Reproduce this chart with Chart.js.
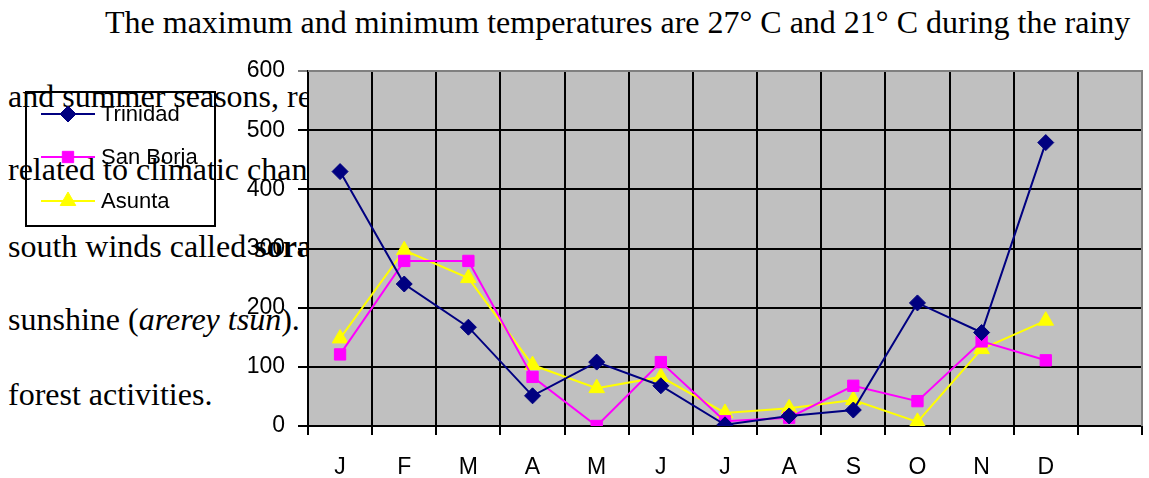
<!DOCTYPE html>
<html>
<head>
<meta charset="utf-8">
<script src="https://cdn.jsdelivr.net/npm/chart.js@4.4.1/dist/chart.umd.min.js"></script>
<style>
  html, body { margin: 0; padding: 0; background: #fff; overflow: hidden; }
  #wrap { position: relative; width: 1149px; height: 478px; overflow: hidden; }
  .doc { position: absolute; font-family: "Liberation Serif", "Times New Roman", serif; font-size: 32px; color: #000; white-space: nowrap; line-height: 1; z-index: 0; }
  canvas { position: absolute; left: 0; top: 0; z-index: 1; }
</style>
</head>
<body>
<div id="wrap">
  <div class="doc" style="left:105px; top:6px;">The maximum and minimum temperatures are 27° C and 21° C during the rainy</div>
  <div class="doc" style="left:8px; top:80px;">and summer seasons, respectively</div>
  <div class="doc" style="left:8px; top:153px;">related to climatic changes</div>
  <div class="doc" style="left:8px; top:230px;">south winds called <b>sora</b></div>
  <div class="doc" style="left:8px; top:303px;">sunshine (<i>arerey tsun</i>).</div>
  <div class="doc" style="left:8px; top:378px;">forest activities.</div>
  <canvas id="c" width="1152" height="478"></canvas>
</div>
<script>
const months = ['J','F','M','A','M','J','J','A','S','O','N','D'];
const xLabels = months.concat(['']);
const trinidad = [430, 240, 167, 51, 108, 68, 2, 17, 27, 208, 158, 479];
const sanBorja = [121, 279, 279, 83, 0, 108, 8, 14, 68, 42, 143, 111];
const asunta   = [148, 297, 250, 103, 64, 83, 22, 30, 44, 7, 130, 178];
const seriesNames = ['Trinidad', 'San Borja', 'Asunta'];
const yTicks = [0, 100, 200, 300, 400, 500, 600];

const colors = ['#000080', '#FF00FF', '#FFFF00'];
const styles = ['rectRot', 'rect', 'triangle'];
const radii = [8, 8, 9];

const bgPlugin = {
  id: 'bg',
  beforeDraw(chart) {
    const a = chart.chartArea, ctx = chart.ctx;
    ctx.save();
    ctx.fillStyle = '#C0C0C0';
    ctx.fillRect(a.left, a.top, a.right - a.left, a.bottom - a.top);
    ctx.restore();
  },
  beforeDatasetsDraw(chart) {
    const a = chart.chartArea, ctx = chart.ctx;
    ctx.save();
    ctx.strokeStyle = '#808080';
    ctx.lineWidth = 2;
    ctx.beginPath();
    ctx.moveTo(a.left, a.top); ctx.lineTo(a.right, a.top); ctx.lineTo(a.right, a.bottom);
    ctx.stroke();
    ctx.restore();
  }
};

const legendPlugin = {
  id: 'customLegend',
  afterDraw(chart) {
    const ctx = chart.ctx;
    ctx.save();
    ctx.strokeStyle = '#000';
    ctx.lineWidth = 2;
    ctx.strokeRect(26, 92, 189, 134);
    const rows = [114, 157, 201];
    chart.data.datasets.forEach((ds, i) => {
      const y = rows[i];
      ctx.strokeStyle = colors[i];
      ctx.lineWidth = 2;
      ctx.beginPath(); ctx.moveTo(41, y); ctx.lineTo(95, y); ctx.stroke();
      ctx.fillStyle = colors[i];
      ctx.strokeStyle = colors[i];
      ctx.lineWidth = 1;
      Chart.helpers.drawPoint(ctx, {pointStyle: styles[i], radius: radii[i], borderWidth: 1, rotation: 0}, 68, y);
      ctx.fillStyle = '#000';
      ctx.font = '22px "Liberation Sans", Arial, sans-serif';
      ctx.textBaseline = 'middle';
      ctx.textAlign = 'left';
      ctx.fillText(ds.label, 101, y + 1);
    });
    ctx.restore();
  }
};

const makeDs = (label, data, i) => ({
  label, data,
  borderColor: colors[i],
  backgroundColor: colors[i],
  borderWidth: 2,
  pointStyle: styles[i],
  pointRadius: radii[i],
  pointHoverRadius: radii[i],
  pointBackgroundColor: colors[i],
  pointBorderColor: colors[i],
  pointBorderWidth: 1,
  tension: 0,
  fill: false
});

new Chart(document.getElementById('c'), {
  type: 'line',
  data: {
    labels: xLabels,
    datasets: [
      makeDs(seriesNames[0], trinidad, 0),
      makeDs(seriesNames[1], sanBorja, 1),
      makeDs(seriesNames[2], asunta, 2)
    ]
  },
  options: {
    responsive: false,
    animation: false,
    devicePixelRatio: 1,
    layout: { padding: { left: 0, right: 0, top: 71, bottom: 0 } },
    plugins: { legend: { display: false }, tooltip: { enabled: false } },
    scales: {
      x: {
        offset: true,
        grid: { offset: true, color: (c) => c.index === xLabels.length ? '#808080' : '#000', lineWidth: 2, tickLength: 9, drawTicks: true },
        border: { color: '#000', width: 2 },
        ticks: { color: '#000', font: { family: '"Liberation Sans", Arial, sans-serif', size: 23 }, padding: 19, maxRotation: 0, autoSkip: false },
        afterFit(s) { s.height = 52; s.paddingLeft = 0; s.paddingRight = 0; }
      },
      y: {
        min: 0, max: 600,
        afterBuildTicks(s) { s.ticks = yTicks.map(v => ({ value: v })); },
        grid: { color: (c) => (c.tick && c.tick.value === 600) ? '#808080' : '#000', lineWidth: 2, tickLength: 10 },
        border: { color: '#000', width: 2 },
        ticks: { color: '#000', font: { family: '"Liberation Sans", Arial, sans-serif', size: 23 }, padding: 13 },
        afterFit(s) { s.width = 308; s.paddingTop = 0; s.paddingBottom = 0; }
      }
    }
  },
  plugins: [bgPlugin, legendPlugin]
});
</script>
</body>
</html>
